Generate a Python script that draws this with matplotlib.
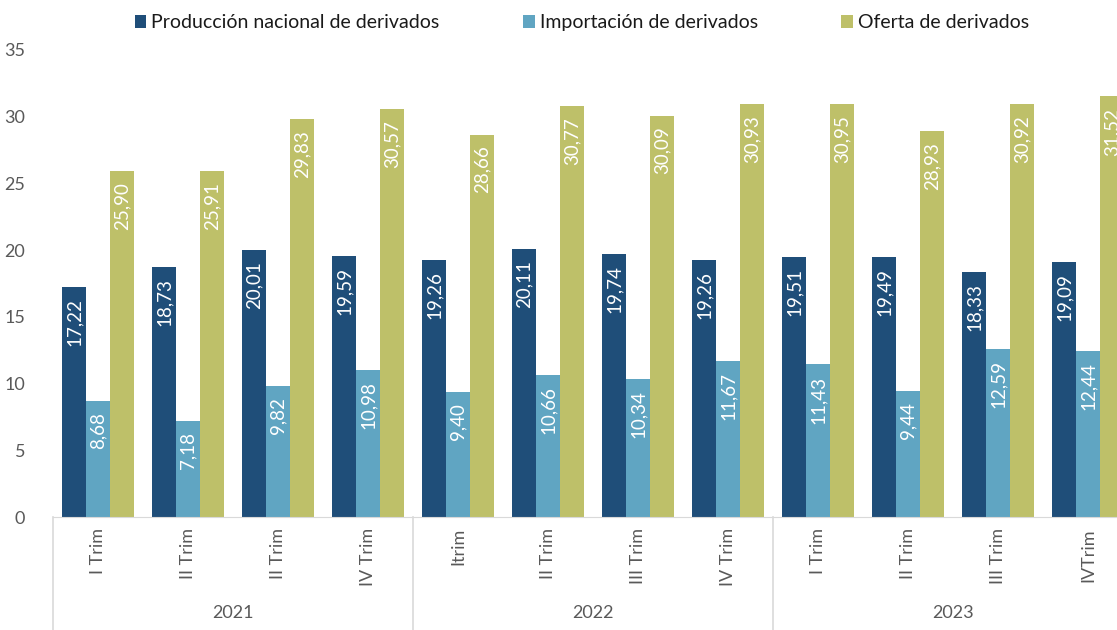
import numpy as np
import matplotlib.pyplot as plt
import matplotlib.transforms as mtransforms

plt.rcParams['font.family'] = ['Lato', 'DejaVu Sans']

trimestres = ['I Trim', 'II Trim', 'II Trim', 'IV Trim',
              'Itrim', 'II Trim', 'III Trim', 'IV Trim',
              'I Trim', 'II Trim', 'III Trim', 'IVTrim']
anios = ['2021', '2022', '2023']
produccion = [17.22, 18.73, 20.01, 19.59, 19.26, 20.11, 19.74, 19.26, 19.51, 19.49, 18.33, 19.09]
importacion = [8.68, 7.18, 9.82, 10.98, 9.40, 10.66, 10.34, 11.67, 11.43, 9.44, 12.59, 12.44]
oferta = [25.90, 25.91, 29.83, 30.57, 28.66, 30.77, 30.09, 30.93, 30.95, 28.93, 30.92, 31.52]
series = ['Producción nacional de derivados', 'Importación de derivados', 'Oferta de derivados']
colores = ['#1f4e79', '#60a5c2', '#bec069']

fig = plt.figure(figsize=(11.17, 6.3), dpi=100)
ax = fig.add_axes([53 / 1117, 1 - 517 / 630, 1080 / 1117, 467 / 630])

x = np.arange(len(trimestres))
w = 0.267
barras = []
for i, (vals, nombre, c) in enumerate(zip([produccion, importacion, oferta], series, colores)):
    b = ax.bar(x + (i - 1) * w, vals, w, color=c, label=nombre)
    barras.append(b)
    for rect, v in zip(b, vals):
        ax.annotate(f'{v:.2f}'.replace('.', ','),
                    (rect.get_x() + rect.get_width() / 2, rect.get_height()),
                    xytext=(0, -8), textcoords='offset points',
                    ha='center', va='top', rotation=90, color='white', fontsize=13.5)

ax.set_xlim(-0.5, len(trimestres) - 0.5)
ax.set_ylim(0, 35)
ax.set_yticks(range(0, 36, 5))
ax.set_xticks(x)
ax.set_xticklabels(trimestres, rotation=90, fontsize=13, color='#595959')
ax.tick_params(axis='x', length=0, pad=8)
ax.tick_params(axis='y', length=0, labelsize=13, labelcolor='#595959', pad=20)
for s in ['top', 'right', 'left']:
    ax.spines[s].set_visible(False)
ax.spines['bottom'].set_color('#d9d9d9')

# separadores y etiquetas de año
trans = mtransforms.blended_transform_factory(ax.transData, ax.transAxes)
for k in range(len(anios) + 1):
    xs = k * 4 - 0.5
    ax.plot([xs, xs], [0, -0.25], transform=trans, color='#d9d9d9', lw=1.2, clip_on=False)
for k, a in enumerate(anios):
    ax.text(k * 4 + 1.5, -0.205, a, transform=trans, ha='center', va='center',
            fontsize=13, color='#595959')

fig.legend(handles=barras, labels=series, loc='upper center', bbox_to_anchor=(0.521, 1.005),
           ncol=3, frameon=False, fontsize=14, handlelength=0.6, handleheight=0.6,
           handletextpad=0.25, columnspacing=4.3, labelcolor='#1a1a1a')

fig.savefig('out.png', dpi=100)
